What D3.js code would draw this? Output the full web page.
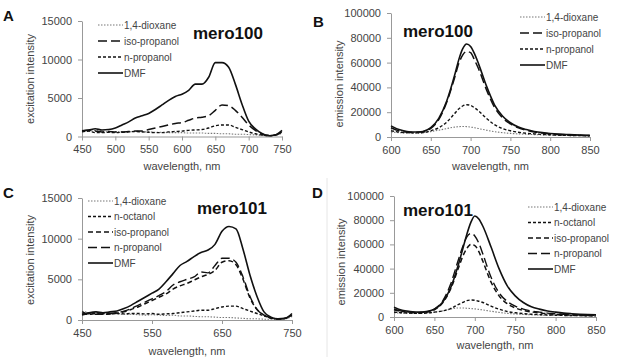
<!DOCTYPE html>
<html>
<head>
<meta charset="utf-8">
<script src="https://cdn.jsdelivr.net/npm/d3@7"></script>
<style>
  body { margin: 0; background: #fff; }
  svg { display: block; font-family: "Liberation Sans", Arial, sans-serif; }
  .axis path, .axis line { stroke: #999; }
  .axis text { fill: #444; font-size: 11px; }
</style>
</head>
<body>
<svg id="chart" width="618" height="357"></svg>
<script>
// wavelengths (nm)
const excWl = [450, 460, 470, 480, 490, 500, 510, 520, 530, 540, 550, 560, 570, 580, 590, 600,
  610, 620, 630, 640, 650, 660, 670, 680, 690, 700, 710, 720, 730, 740, 750]
const emWl = [600, 610, 620, 630, 640, 650, 660, 670, 680, 685, 690, 695, 700, 705, 710, 720,
  730, 740, 750, 760, 770, 780, 790, 800, 810, 820, 830, 840, 850]

// A: mero100 excitation
const aDioxane = [800, 700, 800, 650, 600, 650, 600, 600, 650, 600, 600, 550, 550, 500, 500, 500,
  450, 450, 450, 400, 400, 350, 350, 300, 300, 250, 200, 150, 100, 150, 400]
const aIsoPropanol = [700, 800, 700, 600, 650, 600, 600, 650, 700, 700, 900, 1100, 1300, 1500, 1700, 1800,
  2100, 2400, 2500, 2700, 3400, 4100, 4000, 3400, 2500, 1500, 800, 300, 150, 200, 600]
const aNPropanol = [600, 700, 500, 500, 550, 500, 550, 600, 650, 600, 550, 500, 500, 600, 650, 700,
  800, 850, 900, 1100, 1400, 1500, 1500, 1200, 900, 600, 350, 200, 100, 200, 600]
const aDMF = [750, 850, 1000, 850, 900, 1100, 1500, 1900, 2400, 2700, 3000, 3500, 4100, 4700, 5200, 5500,
  6000, 6800, 6800, 7700, 9600, 9600, 9000, 6800, 4200, 2000, 1000, 400, 100, 200, 800]

// B: mero100 emission
const bDioxane = [4000, 3500, 3200, 3000, 3500, 4300, 5500, 6800, 8000, 8300, 8500, 8400, 8000, 7500, 6800,
  5500, 4300, 3500, 2900, 2500, 2200, 1900, 1700, 1500, 1400, 1200, 1100, 1000, 900]
const bIsoPropanol = [7500, 5000, 4000, 3800, 4200, 7000, 14000, 28000, 48000, 59000, 66000, 69000, 68000, 62000, 55000,
  38000, 24000, 15500, 10500, 7500, 5500, 4000, 3200, 2500, 2000, 1800, 1500, 1300, 1200]
const bNPropanol = [5000, 4000, 3500, 3300, 3500, 5000, 7500, 12000, 19000, 22500, 25000, 26000, 25500, 23500, 21000,
  15000, 10000, 6800, 5000, 3800, 3000, 2500, 2100, 1800, 1500, 1300, 1200, 1100, 1000]
const bDMF = [9000, 6000, 4500, 4000, 4500, 7500, 15000, 29000, 50000, 62000, 71000, 75000, 73000, 67000, 59000,
  41000, 26000, 17000, 11500, 8000, 6000, 4500, 3500, 2800, 2300, 2000, 1700, 1500, 1300]

// C: mero101 excitation
const cDioxane = [1100, 900, 800, 750, 800, 750, 700, 700, 650, 600, 650, 600, 550, 600, 500, 500,
  450, 400, 400, 350, 300, 300, 250, 200, 150, 150, 100, 100, 100, 150, 400]
const cNOctanol = [1000, 800, 900, 800, 750, 800, 750, 800, 800, 750, 800, 700, 750, 800, 900, 1000,
  1100, 1200, 1200, 1400, 1600, 1700, 1700, 1400, 1100, 800, 500, 250, 150, 200, 700]
const cIsoPropanol = [700, 700, 800, 700, 750, 850, 1000, 1300, 1600, 2000, 2400, 2800, 3200, 3800, 4200, 4500,
  4900, 5300, 5600, 6100, 7100, 7300, 6800, 5000, 2700, 1300, 600, 250, 100, 200, 500]
const cNPropanol = [600, 800, 700, 750, 800, 900, 1100, 1400, 1800, 2200, 2600, 3000, 3500, 4300, 4700, 5000,
  5300, 5900, 5800, 6700, 7600, 7600, 7100, 5300, 2900, 1300, 600, 250, 100, 200, 600]
const cDMF = [700, 900, 1000, 900, 1000, 1100, 1400, 1800, 2300, 2800, 3300, 3800, 4700, 5700, 6700, 7200,
  7800, 8300, 8600, 9300, 10900, 11500, 11200, 8700, 5500, 2900, 1000, 350, 150, 200, 800]

// D: mero101 emission
const dDioxane = [3500, 3200, 3000, 3000, 3300, 4000, 5000, 6500, 7500, 7500, 7200, 7000, 6700, 6300, 5800,
  4800, 3800, 3000, 2500, 2100, 1800, 1600, 1400, 1300, 1200, 1100, 1000, 900, 800]
const dNOctanol = [4000, 3500, 3200, 3000, 3200, 4000, 5000, 7000, 10500, 12000, 13500, 14000, 13800, 13000, 12000,
  9000, 6500, 4500, 3500, 2800, 2300, 2000, 1700, 1500, 1300, 1200, 1100, 1000, 900]
const dIsoPropanol = [6000, 4500, 3800, 3600, 4000, 6000, 11500, 23000, 41000, 50000, 56500, 60000, 59000, 54000, 46000,
  29000, 17500, 11000, 7500, 5500, 4200, 3300, 2700, 2200, 1900, 1600, 1400, 1300, 1200]
const dNPropanol = [6500, 4800, 4000, 3800, 4300, 6500, 13000, 27000, 48000, 58000, 66000, 69000, 67000, 61000, 52000,
  33000, 20000, 13000, 9000, 6500, 5000, 4000, 3200, 2700, 2200, 1900, 1700, 1500, 1400]
const dDMF = [8000, 5500, 4500, 4000, 4500, 6500, 12000, 24000, 44000, 56000, 68000, 78000, 83500, 81000, 75000,
  58000, 40000, 26000, 17500, 12000, 8500, 6500, 5000, 4000, 3200, 2700, 2300, 2000, 1800]

// tick labels
const excTicksA = [450, 500, 550, 600, 650, 700, 750]
const excTicksC = [450, 550, 650, 750]
const emTicks = [600, 650, 700, 750, 800, 850]
const excYTicks = [0, 5000, 10000, 15000]
const emYTicks = [0, 20000, 40000, 60000, 80000, 100000]

// line styles per solvent
const styles = {
  "1,4-dioxane": { dash: "1.5,1.5", color: "#777", width: 1.1 },
  "n-octanol": { dash: "3,2", color: "#111", width: 1.4 },
  "iso-propanol": { dash: "7,4", color: "#111", width: 1.5 },
  "n-propanol": { dash: "3,2", color: "#111", width: 1.4 },
  "DMF": { dash: null, color: "#111", width: 1.6 },
}
const longDash = "9,4"
const midDash = "5,3"

const svg = d3.select("#chart")

// faint image edge seen in the lower right panel
svg.append("line").attr("x1", 327).attr("x2", 327).attr("y1", 178).attr("y2", 357)
  .attr("stroke", "#e6e6e6")

const panels = [
  {
    letter: "A", lx: 3, ly: 21, title: "mero100", tx: 193, ty: 39,
    x0: 82, x1: 282, y0: 136.5, y1: 21, xd: [450, 750], yd: [0, 15000],
    xt: excTicksA, yt: excYTicks, yLabel: "excitation intensity", ylx: 34, yly: 79, xly: 170,
    wl: excWl,
    series: [["1,4-dioxane", aDioxane], ["iso-propanol", aIsoPropanol, longDash], ["n-propanol", aNPropanol], ["DMF", aDMF]],
    legX: 98, legY: 25, legStep: 16
  },
  {
    letter: "B", lx: 313, ly: 27, title: "mero100", tx: 403, ty: 37,
    x0: 391, x1: 590, y0: 137, y1: 13, xd: [600, 850], yd: [0, 100000],
    xt: emTicks, yt: emYTicks, yLabel: "emission intensity", ylx: 343, yly: 84, xly: 170,
    wl: emWl,
    series: [["1,4-dioxane", bDioxane], ["iso-propanol", bIsoPropanol, longDash], ["n-propanol", bNPropanol], ["DMF", bDMF]],
    legX: 520, legY: 17, legStep: 16
  },
  {
    letter: "C", lx: 3, ly: 198, title: "mero101", tx: 197, ty: 214,
    x0: 82, x1: 292, y0: 320, y1: 198, xd: [450, 750], yd: [0, 15000],
    xt: excTicksC, yt: excYTicks, yLabel: "excitation intensity", ylx: 34, yly: 260, xly: 355,
    wl: excWl,
    series: [["1,4-dioxane", cDioxane], ["n-octanol", cNOctanol], ["iso-propanol", cIsoPropanol, midDash],
      ["n-propanol", cNPropanol, longDash], ["DMF", cDMF]],
    legX: 88, legY: 201, legStep: 15.5
  },
  {
    letter: "D", lx: 312, ly: 198, title: "mero101", tx: 403, ty: 216,
    x0: 394, x1: 596, y0: 317, y1: 196, xd: [600, 850], yd: [0, 100000],
    xt: emTicks, yt: emYTicks, yLabel: "emission intensity", ylx: 345, yly: 262, xly: 349,
    wl: emWl,
    series: [["1,4-dioxane", dDioxane], ["n-octanol", dNOctanol], ["iso-propanol", dIsoPropanol, midDash],
      ["n-propanol", dNPropanol, longDash], ["DMF", dDMF]],
    legX: 528, legY: 207, legStep: 15.5
  },
]

panels.forEach(p => {
  const x = d3.scaleLinear().domain(p.xd).range([p.x0, p.x1])
  const y = d3.scaleLinear().domain(p.yd).range([p.y0, p.y1])
  const g = svg.append("g")

  g.append("g").attr("class", "axis")
    .attr("transform", `translate(0,${p.y0})`)
    .call(d3.axisBottom(x).tickValues(p.xt).tickSize(4).tickSizeOuter(0).tickPadding(5).tickFormat(d3.format("d")))
  g.append("g").attr("class", "axis")
    .attr("transform", `translate(${p.x0},0)`)
    .call(d3.axisLeft(y).tickValues(p.yt).tickSize(4).tickSizeOuter(0).tickPadding(6).tickFormat(d3.format("d")))

  const line = d3.line()
    .x((d, i) => x(p.wl[i]))
    .y(d => y(d))
    .curve(d3.curveMonotoneX)

  p.series.forEach(([name, vals, dash]) => {
    const s = styles[name]
    g.append("path").datum(vals)
      .attr("d", line)
      .attr("fill", "none")
      .attr("stroke", s.color)
      .attr("stroke-width", s.width)
      .attr("stroke-dasharray", dash || s.dash)
  })

  // legend
  p.series.forEach(([name, vals, dash], i) => {
    const s = styles[name]
    const ly = p.legY + i * p.legStep
    g.append("line")
      .attr("x1", p.legX).attr("x2", p.legX + 25)
      .attr("y1", ly).attr("y2", ly)
      .attr("stroke", s.color).attr("stroke-width", s.width)
      .attr("stroke-dasharray", dash || s.dash)
    g.append("text")
      .attr("x", p.legX + 26).attr("y", ly + 3.5)
      .attr("font-size", 10).attr("fill", "#444")
      .text(name)
  })

  g.append("text").attr("x", p.lx).attr("y", p.ly)
    .attr("font-size", 15).attr("font-weight", "bold").attr("fill", "#111")
    .text(p.letter)
  g.append("text").attr("x", p.tx).attr("y", p.ty)
    .attr("font-size", 17).attr("font-weight", "bold").attr("fill", "#111")
    .text(p.title)
  g.append("text")
    .attr("x", (p.x0 + p.x1) / 2).attr("y", p.xly)
    .attr("text-anchor", "middle").attr("font-size", 11).attr("fill", "#444")
    .text("wavelength, nm")
  g.append("text")
    .attr("transform", `translate(${p.ylx},${p.yly}) rotate(-90)`)
    .attr("text-anchor", "middle").attr("font-size", 11).attr("fill", "#444")
    .text(p.yLabel)
})
</script>
</body>
</html>
